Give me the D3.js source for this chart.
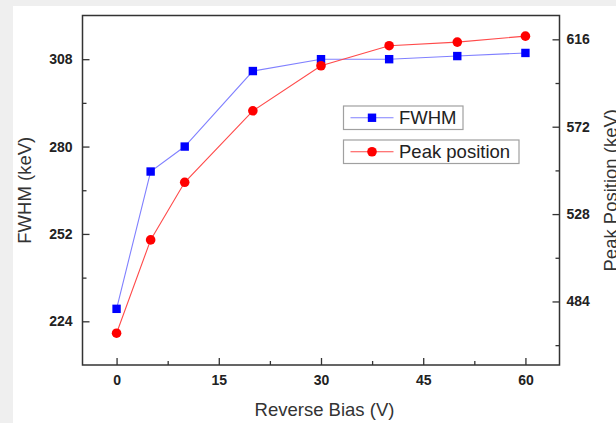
<!DOCTYPE html>
<html>
<head>
<meta charset="utf-8">
<script src="https://cdn.jsdelivr.net/npm/d3@7/dist/d3.min.js"></script>
<style>
  html, body { margin: 0; padding: 0; background: #efefef; }
  svg { display: block; font-family: "Liberation Sans", Arial, sans-serif; }
</style>
</head>
<body>
<svg id="chart" width="616" height="423"></svg>
<script>
// Reverse bias (V)
const bias = [0, 5, 10, 20, 30, 40, 50, 60];
// FWHM (keV), left axis
const fwhm = [228, 272, 280, 304.2, 308, 308, 309, 310];
// Peak position (keV), right axis
const peakPosition = [468, 515, 544, 580, 602.7, 612.8, 614.6, 617.6];

const xTicks = [0, 15, 30, 45, 60];
const xMinor = [7.5, 22.5, 37.5, 52.5];
const leftTicks = [224, 252, 280, 308];
const leftMinor = [238, 266, 294];
const rightTicks = [484, 528, 572, 616];
const rightMinor = [462, 506, 550, 594];

const svg = d3.select("#chart");

// white panel
svg.append("rect").attr("x", 13).attr("y", 6).attr("width", 616 - 13).attr("height", 423 - 6).attr("fill", "#ffffff");

const L = 82.5, R = 559.5, T = 15.5, B = 365;
const x = d3.scaleLinear().domain([-5, 65]).range([L, R]);
const yL = d3.scaleLinear().domain([210, 322]).range([B, T]);
const yR = d3.scaleLinear().domain([452, 628]).range([B, T]);

const axisColor = "#333";

function styleAxis(g) {
  g.select(".domain").remove();
  g.selectAll("line").attr("stroke", axisColor).attr("stroke-width", 1.3);
  g.selectAll("text").attr("fill", "#222").attr("font-size", 14).attr("font-weight", "bold")
    .attr("font-family", "'Liberation Sans', Arial, sans-serif");
}

// bottom axis (ticks pointing inward)
svg.append("g").attr("transform", `translate(0,${B})`)
  .call(d3.axisBottom(x).tickValues(xTicks).tickSize(-7).tickPadding(10).tickFormat(d3.format("d")))
  .call(styleAxis);
svg.append("g").attr("transform", `translate(0,${B})`)
  .call(d3.axisBottom(x).tickValues(xMinor).tickSize(-4).tickFormat(""))
  .call(styleAxis);

// left axis
svg.append("g").attr("transform", `translate(${L},0)`)
  .call(d3.axisLeft(yL).tickValues(leftTicks).tickSize(-7).tickPadding(10).tickFormat(d3.format("d")))
  .call(styleAxis);
svg.append("g").attr("transform", `translate(${L},0)`)
  .call(d3.axisLeft(yL).tickValues(leftMinor).tickSize(-4).tickFormat(""))
  .call(styleAxis);

// right axis
svg.append("g").attr("transform", `translate(${R},0)`)
  .call(d3.axisRight(yR).tickValues(rightTicks).tickSize(-7).tickPadding(7).tickFormat(d3.format("d")))
  .call(styleAxis);
svg.append("g").attr("transform", `translate(${R},0)`)
  .call(d3.axisRight(yR).tickValues(rightMinor).tickSize(-4).tickFormat(""))
  .call(styleAxis);

// plot frame
svg.append("rect").attr("x", L).attr("y", T).attr("width", R - L).attr("height", B - T)
  .attr("fill", "none").attr("stroke", axisColor).attr("stroke-width", 1.5);

// FWHM series
const lineF = d3.line().x((d, i) => x(bias[i])).y(d => yL(d));
svg.append("path").datum(fwhm).attr("d", lineF)
  .attr("fill", "none").attr("stroke", "#8080ff").attr("stroke-width", 1.1);
svg.append("g").selectAll("rect").data(fwhm).join("rect")
  .attr("x", (d, i) => x(bias[i]) - 4.2).attr("y", d => yL(d) - 4.2)
  .attr("width", 8.4).attr("height", 8.4).attr("fill", "#0000ff");

// Peak position series
const lineP = d3.line().x((d, i) => x(bias[i])).y(d => yR(d));
svg.append("path").datum(peakPosition).attr("d", lineP)
  .attr("fill", "none").attr("stroke", "#ff4a4a").attr("stroke-width", 1.1);
svg.append("g").selectAll("circle").data(peakPosition).join("circle")
  .attr("cx", (d, i) => x(bias[i])).attr("cy", d => yR(d))
  .attr("r", 4.8).attr("fill", "#ff0000");

// axis titles
const titleFont = 18.5;
svg.append("text").attr("x", 324.5).attr("y", 416).attr("text-anchor", "middle")
  .attr("font-size", titleFont).attr("fill", "#333").text("Reverse Bias (V)");
svg.append("text").attr("transform", `translate(31,${(T + B) / 2}) rotate(-90)`)
  .attr("text-anchor", "middle").attr("font-size", titleFont).attr("fill", "#333").text("FWHM (keV)");
svg.append("text").attr("transform", `translate(617,${(T + B) / 2}) rotate(-90)`)
  .attr("text-anchor", "middle").attr("font-size", titleFont).attr("fill", "#333").text("Peak Position (keV)");

// legend: one framed entry per series
const legendItems = [
  { label: "FWHM", line: "#8080ff", mark: "#0000ff", shape: "square", y: 106, w: 119.5 },
  { label: "Peak position", line: "#ff4a4a", mark: "#ff0000", shape: "circle", y: 140, w: 175.5 }
];
const lg = svg.append("g");
legendItems.forEach(it => {
  const g = lg.append("g").attr("transform", `translate(343.5,${it.y})`);
  g.append("rect").attr("width", it.w).attr("height", 23.5)
    .attr("fill", "#fff").attr("stroke", "#a0a0a0").attr("stroke-width", 1.2);
  const cy = 11.75;
  g.append("line").attr("x1", 7).attr("x2", 50).attr("y1", cy).attr("y2", cy)
    .attr("stroke", it.line).attr("stroke-width", 1.1);
  if (it.shape === "square") {
    g.append("rect").attr("x", 28.5 - 4.2).attr("y", cy - 4.2).attr("width", 8.4).attr("height", 8.4).attr("fill", it.mark);
  } else {
    g.append("circle").attr("cx", 28.5).attr("cy", cy).attr("r", 4.8).attr("fill", it.mark);
  }
  g.append("text").attr("x", 55.5).attr("y", cy + 6.7).attr("font-size", titleFont)
    .attr("fill", "#222").text(it.label);
});
</script>
</body>
</html>
